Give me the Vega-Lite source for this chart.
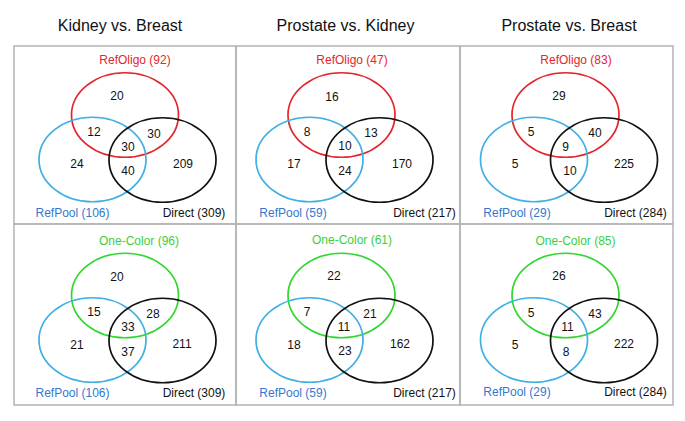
{
  "$schema": "https://vega.github.io/schema/vega-lite/v6.json",
  "background": "white",
  "padding": {"left": 13, "top": 16, "right": 5, "bottom": 5},
  "data": {"values": [
    {"p":1,"k":"e","x":111,"y":69,"c":"#e3262c"},
    {"p":1,"k":"e","x":78.5,"y":113.5,"c":"#3fb0e4"},
    {"p":1,"k":"e","x":148.5,"y":114,"c":"#111111"},
    {"p":1,"k":"n","x":103,"y":50,"t":"20"},
    {"p":1,"k":"n","x":80,"y":86,"t":"12"},
    {"p":1,"k":"n","x":140,"y":88,"t":"30"},
    {"p":1,"k":"n","x":114,"y":101,"t":"30"},
    {"p":1,"k":"n","x":63,"y":118,"t":"24"},
    {"p":1,"k":"n","x":114,"y":125,"t":"40"},
    {"p":1,"k":"n","x":169,"y":118,"t":"209"},
    {"p":1,"k":"l","x":121,"y":14,"t":"RefOligo (92)","c":"#e3262c"},
    {"p":1,"k":"l","x":58.5,"y":167,"t":"RefPool (106)","c":"#3477d0"},
    {"p":1,"k":"l","x":180,"y":167,"t":"Direct (309)","c":"#111111"},

    {"p":2,"k":"e","x":105.5,"y":69,"c":"#e3262c"},
    {"p":2,"k":"e","x":73.5,"y":113.5,"c":"#3fb0e4"},
    {"p":2,"k":"e","x":143.5,"y":114,"c":"#111111"},
    {"p":2,"k":"n","x":96,"y":51,"t":"16"},
    {"p":2,"k":"n","x":71,"y":86,"t":"8"},
    {"p":2,"k":"n","x":135,"y":87,"t":"13"},
    {"p":2,"k":"n","x":109,"y":100,"t":"10"},
    {"p":2,"k":"n","x":58,"y":118,"t":"17"},
    {"p":2,"k":"n","x":109,"y":125,"t":"24"},
    {"p":2,"k":"n","x":166,"y":118,"t":"170"},
    {"p":2,"k":"l","x":116,"y":13.5,"t":"RefOligo (47)","c":"#e3262c"},
    {"p":2,"k":"l","x":57,"y":167,"t":"RefPool (59)","c":"#3477d0"},
    {"p":2,"k":"l","x":188.5,"y":167,"t":"Direct (217)","c":"#111111"},

    {"p":3,"k":"e","x":105.5,"y":69,"c":"#e3262c"},
    {"p":3,"k":"e","x":74,"y":113.5,"c":"#3fb0e4"},
    {"p":3,"k":"e","x":144,"y":114,"c":"#111111"},
    {"p":3,"k":"n","x":99,"y":49.5,"t":"29"},
    {"p":3,"k":"n","x":71,"y":86,"t":"5"},
    {"p":3,"k":"n","x":135,"y":87,"t":"40"},
    {"p":3,"k":"n","x":105.5,"y":101,"t":"9"},
    {"p":3,"k":"n","x":55,"y":118,"t":"5"},
    {"p":3,"k":"n","x":110,"y":125,"t":"10"},
    {"p":3,"k":"n","x":164,"y":118,"t":"225"},
    {"p":3,"k":"l","x":116,"y":14,"t":"RefOligo (83)","c":"#e3262c"},
    {"p":3,"k":"l","x":57,"y":167,"t":"RefPool (29)","c":"#3477d0"},
    {"p":3,"k":"l","x":175.5,"y":167,"t":"Direct (284)","c":"#111111"},

    {"p":4,"k":"e","x":111,"y":71.5,"c":"#2fd82f"},
    {"p":4,"k":"e","x":78.5,"y":116,"c":"#3fb0e4"},
    {"p":4,"k":"e","x":148.5,"y":116.5,"c":"#111111"},
    {"p":4,"k":"n","x":103,"y":53,"t":"20"},
    {"p":4,"k":"n","x":80,"y":88,"t":"15"},
    {"p":4,"k":"n","x":139,"y":90,"t":"28"},
    {"p":4,"k":"n","x":114,"y":103,"t":"33"},
    {"p":4,"k":"n","x":63,"y":121,"t":"21"},
    {"p":4,"k":"n","x":114,"y":128,"t":"37"},
    {"p":4,"k":"n","x":168,"y":120,"t":"211"},
    {"p":4,"k":"l","x":125,"y":16.5,"t":"One-Color (96)","c":"#3ccf3c"},
    {"p":4,"k":"l","x":58.5,"y":169,"t":"RefPool (106)","c":"#3477d0"},
    {"p":4,"k":"l","x":180,"y":169,"t":"Direct (309)","c":"#111111"},

    {"p":5,"k":"e","x":105.5,"y":71.5,"c":"#2fd82f"},
    {"p":5,"k":"e","x":73.5,"y":116,"c":"#3fb0e4"},
    {"p":5,"k":"e","x":143.5,"y":116.5,"c":"#111111"},
    {"p":5,"k":"n","x":98,"y":52,"t":"22"},
    {"p":5,"k":"n","x":71,"y":88,"t":"7"},
    {"p":5,"k":"n","x":134,"y":90,"t":"21"},
    {"p":5,"k":"n","x":108,"y":103,"t":"11"},
    {"p":5,"k":"n","x":58,"y":121,"t":"18"},
    {"p":5,"k":"n","x":109,"y":127,"t":"23"},
    {"p":5,"k":"n","x":164,"y":120,"t":"162"},
    {"p":5,"k":"l","x":116,"y":16,"t":"One-Color (61)","c":"#3ccf3c"},
    {"p":5,"k":"l","x":57,"y":169,"t":"RefPool (59)","c":"#3477d0"},
    {"p":5,"k":"l","x":188.5,"y":169,"t":"Direct (217)","c":"#111111"},

    {"p":6,"k":"e","x":105.5,"y":71.5,"c":"#2fd82f"},
    {"p":6,"k":"e","x":74,"y":116,"c":"#3fb0e4"},
    {"p":6,"k":"e","x":144,"y":116.5,"c":"#111111"},
    {"p":6,"k":"n","x":99,"y":52,"t":"26"},
    {"p":6,"k":"n","x":71,"y":89,"t":"5"},
    {"p":6,"k":"n","x":135,"y":90,"t":"43"},
    {"p":6,"k":"n","x":107.5,"y":103,"t":"11"},
    {"p":6,"k":"n","x":55,"y":121,"t":"5"},
    {"p":6,"k":"n","x":106,"y":128,"t":"8"},
    {"p":6,"k":"n","x":164,"y":120,"t":"222"},
    {"p":6,"k":"l","x":115.5,"y":17,"t":"One-Color (85)","c":"#3ccf3c"},
    {"p":6,"k":"l","x":57,"y":168,"t":"RefPool (29)","c":"#3477d0"},
    {"p":6,"k":"l","x":175.5,"y":168,"t":"Direct (284)","c":"#111111"}
  ]},
  "columns": 3,
  "spacing": 0,
  "bounds": "flush",
  "resolve": {"scale": {"x": "independent", "y": "independent"}},
  "concat": [
    {
      "width": 222, "height": 178,
      "title": {"text": "Kidney vs. Breast", "dx": -5},
      "transform": [{"filter": "datum.p == 1"}],
      "encoding": {
        "x": {"field": "x", "type": "quantitative", "scale": {"domain": [0, 222], "nice": false, "zero": false}, "axis": null},
        "y": {"field": "y", "type": "quantitative", "scale": {"domain": [0, 178], "nice": false, "zero": false, "reverse": true}, "axis": null}
      },
      "layer": [
        {"transform": [{"filter": "datum.k == 'e'"}], "mark": {"type": "point", "shape": "M -1 0 C -1 -0.434 -0.552 -0.79 0 -0.79 C 0.552 -0.79 1 -0.434 1 0 C 1 0.434 0.552 0.79 0 0.79 C -0.552 0.79 -1 0.434 -1 0 Z", "size": 11449, "filled": false, "opacity": 1, "strokeWidth": 1.7}, "encoding": {"stroke": {"field": "c", "type": "nominal", "scale": null}}},
        {"transform": [{"filter": "datum.k == 'n'"}], "mark": {"type": "text", "fontSize": 12, "font": "Liberation Sans", "color": "#111111", "baseline": "middle"}, "encoding": {"text": {"field": "t"}}},
        {"transform": [{"filter": "datum.k == 'l'"}], "mark": {"type": "text", "fontSize": 12, "font": "Liberation Sans", "baseline": "middle"}, "encoding": {"text": {"field": "t"}, "color": {"field": "c", "type": "nominal", "scale": null}}}
      ]
    },
    {
      "width": 224, "height": 178,
      "title": {"text": "Prostate vs. Kidney", "dx": -2.5},
      "transform": [{"filter": "datum.p == 2"}],
      "encoding": {
        "x": {"field": "x", "type": "quantitative", "scale": {"domain": [0, 224], "nice": false, "zero": false}, "axis": null},
        "y": {"field": "y", "type": "quantitative", "scale": {"domain": [0, 178], "nice": false, "zero": false, "reverse": true}, "axis": null}
      },
      "layer": [
        {"transform": [{"filter": "datum.k == 'e'"}], "mark": {"type": "point", "shape": "M -1 0 C -1 -0.434 -0.552 -0.79 0 -0.79 C 0.552 -0.79 1 -0.434 1 0 C 1 0.434 0.552 0.79 0 0.79 C -0.552 0.79 -1 0.434 -1 0 Z", "size": 11449, "filled": false, "opacity": 1, "strokeWidth": 1.7}, "encoding": {"stroke": {"field": "c", "type": "nominal", "scale": null}}},
        {"transform": [{"filter": "datum.k == 'n'"}], "mark": {"type": "text", "fontSize": 12, "font": "Liberation Sans", "color": "#111111", "baseline": "middle"}, "encoding": {"text": {"field": "t"}}},
        {"transform": [{"filter": "datum.k == 'l'"}], "mark": {"type": "text", "fontSize": 12, "font": "Liberation Sans", "baseline": "middle"}, "encoding": {"text": {"field": "t"}, "color": {"field": "c", "type": "nominal", "scale": null}}}
      ]
    },
    {
      "width": 213, "height": 178,
      "title": {"text": "Prostate vs. Breast", "dx": 2.5},
      "transform": [{"filter": "datum.p == 3"}],
      "encoding": {
        "x": {"field": "x", "type": "quantitative", "scale": {"domain": [0, 213], "nice": false, "zero": false}, "axis": null},
        "y": {"field": "y", "type": "quantitative", "scale": {"domain": [0, 178], "nice": false, "zero": false, "reverse": true}, "axis": null}
      },
      "layer": [
        {"transform": [{"filter": "datum.k == 'e'"}], "mark": {"type": "point", "shape": "M -1 0 C -1 -0.434 -0.552 -0.79 0 -0.79 C 0.552 -0.79 1 -0.434 1 0 C 1 0.434 0.552 0.79 0 0.79 C -0.552 0.79 -1 0.434 -1 0 Z", "size": 11449, "filled": false, "opacity": 1, "strokeWidth": 1.7}, "encoding": {"stroke": {"field": "c", "type": "nominal", "scale": null}}},
        {"transform": [{"filter": "datum.k == 'n'"}], "mark": {"type": "text", "fontSize": 12, "font": "Liberation Sans", "color": "#111111", "baseline": "middle"}, "encoding": {"text": {"field": "t"}}},
        {"transform": [{"filter": "datum.k == 'l'"}], "mark": {"type": "text", "fontSize": 12, "font": "Liberation Sans", "baseline": "middle"}, "encoding": {"text": {"field": "t"}, "color": {"field": "c", "type": "nominal", "scale": null}}}
      ]
    },
    {
      "width": 222, "height": 181,
      "transform": [{"filter": "datum.p == 4"}],
      "encoding": {
        "x": {"field": "x", "type": "quantitative", "scale": {"domain": [0, 222], "nice": false, "zero": false}, "axis": null},
        "y": {"field": "y", "type": "quantitative", "scale": {"domain": [0, 181], "nice": false, "zero": false, "reverse": true}, "axis": null}
      },
      "layer": [
        {"transform": [{"filter": "datum.k == 'e'"}], "mark": {"type": "point", "shape": "M -1 0 C -1 -0.434 -0.552 -0.79 0 -0.79 C 0.552 -0.79 1 -0.434 1 0 C 1 0.434 0.552 0.79 0 0.79 C -0.552 0.79 -1 0.434 -1 0 Z", "size": 11449, "filled": false, "opacity": 1, "strokeWidth": 1.7}, "encoding": {"stroke": {"field": "c", "type": "nominal", "scale": null}}},
        {"transform": [{"filter": "datum.k == 'n'"}], "mark": {"type": "text", "fontSize": 12, "font": "Liberation Sans", "color": "#111111", "baseline": "middle"}, "encoding": {"text": {"field": "t"}}},
        {"transform": [{"filter": "datum.k == 'l'"}], "mark": {"type": "text", "fontSize": 12, "font": "Liberation Sans", "baseline": "middle"}, "encoding": {"text": {"field": "t"}, "color": {"field": "c", "type": "nominal", "scale": null}}}
      ]
    },
    {
      "width": 224, "height": 181,
      "transform": [{"filter": "datum.p == 5"}],
      "encoding": {
        "x": {"field": "x", "type": "quantitative", "scale": {"domain": [0, 224], "nice": false, "zero": false}, "axis": null},
        "y": {"field": "y", "type": "quantitative", "scale": {"domain": [0, 181], "nice": false, "zero": false, "reverse": true}, "axis": null}
      },
      "layer": [
        {"transform": [{"filter": "datum.k == 'e'"}], "mark": {"type": "point", "shape": "M -1 0 C -1 -0.434 -0.552 -0.79 0 -0.79 C 0.552 -0.79 1 -0.434 1 0 C 1 0.434 0.552 0.79 0 0.79 C -0.552 0.79 -1 0.434 -1 0 Z", "size": 11449, "filled": false, "opacity": 1, "strokeWidth": 1.7}, "encoding": {"stroke": {"field": "c", "type": "nominal", "scale": null}}},
        {"transform": [{"filter": "datum.k == 'n'"}], "mark": {"type": "text", "fontSize": 12, "font": "Liberation Sans", "color": "#111111", "baseline": "middle"}, "encoding": {"text": {"field": "t"}}},
        {"transform": [{"filter": "datum.k == 'l'"}], "mark": {"type": "text", "fontSize": 12, "font": "Liberation Sans", "baseline": "middle"}, "encoding": {"text": {"field": "t"}, "color": {"field": "c", "type": "nominal", "scale": null}}}
      ]
    },
    {
      "width": 213, "height": 181,
      "transform": [{"filter": "datum.p == 6"}],
      "encoding": {
        "x": {"field": "x", "type": "quantitative", "scale": {"domain": [0, 213], "nice": false, "zero": false}, "axis": null},
        "y": {"field": "y", "type": "quantitative", "scale": {"domain": [0, 181], "nice": false, "zero": false, "reverse": true}, "axis": null}
      },
      "layer": [
        {"transform": [{"filter": "datum.k == 'e'"}], "mark": {"type": "point", "shape": "M -1 0 C -1 -0.434 -0.552 -0.79 0 -0.79 C 0.552 -0.79 1 -0.434 1 0 C 1 0.434 0.552 0.79 0 0.79 C -0.552 0.79 -1 0.434 -1 0 Z", "size": 11449, "filled": false, "opacity": 1, "strokeWidth": 1.7}, "encoding": {"stroke": {"field": "c", "type": "nominal", "scale": null}}},
        {"transform": [{"filter": "datum.k == 'n'"}], "mark": {"type": "text", "fontSize": 12, "font": "Liberation Sans", "color": "#111111", "baseline": "middle"}, "encoding": {"text": {"field": "t"}}},
        {"transform": [{"filter": "datum.k == 'l'"}], "mark": {"type": "text", "fontSize": 12, "font": "Liberation Sans", "baseline": "middle"}, "encoding": {"text": {"field": "t"}, "color": {"field": "c", "type": "nominal", "scale": null}}}
      ]
    }
  ],
  "config": {
    "view": {"stroke": "#b4b4b4", "strokeWidth": 1.5},
    "title": {"fontSize": 16, "font": "Liberation Sans", "fontWeight": "normal", "color": "#111111", "anchor": "middle", "baseline": "alphabetic", "offset": 12.5}
  }
}
